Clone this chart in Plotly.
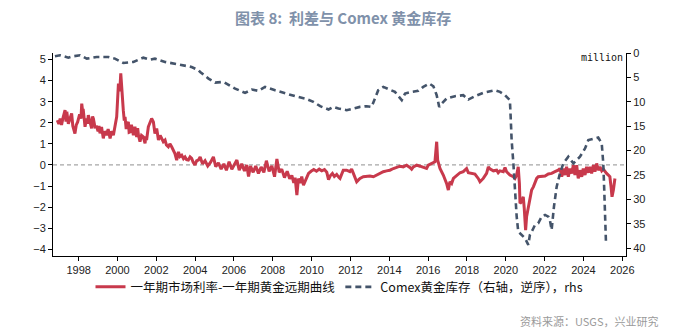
import plotly.graph_objects as go

# ---- data ----
spread_year = [
    1996.90, 1996.98, 1997.05, 1997.12, 1997.20, 1997.30, 1997.35, 1997.39, 1997.47, 1997.56,
    1997.64, 1997.70, 1997.76, 1997.81, 1997.88, 1997.95, 1998.05, 1998.12, 1998.16, 1998.20,
    1998.24, 1998.28, 1998.33, 1998.40, 1998.45, 1998.50, 1998.58, 1998.67, 1998.72, 1998.76,
    1998.84, 1998.93, 1999.00, 1999.05, 1999.10, 1999.18, 1999.27, 1999.35, 1999.44, 1999.52,
    1999.62, 1999.70, 1999.79, 1999.87, 1999.96, 2000.05, 2000.12, 2000.17, 2000.22, 2000.30,
    2000.35, 2000.39, 2000.45, 2000.48, 2000.56, 2000.60, 2000.65, 2000.72, 2000.82, 2000.90,
    2000.95, 2000.99, 2001.04, 2001.08, 2001.16, 2001.24, 2001.33, 2001.42, 2001.46, 2001.50,
    2001.59, 2001.68, 2001.76, 2001.85, 2001.90, 2001.93, 2002.02, 2002.08, 2002.11, 2002.20,
    2002.28, 2002.36, 2002.45, 2002.52, 2002.62, 2002.70, 2002.79, 2002.88, 2002.96, 2003.05,
    2003.10, 2003.14, 2003.22, 2003.31, 2003.40, 2003.48, 2003.56, 2003.65, 2003.74, 2003.82,
    2003.90, 2003.99, 2004.08, 2004.17,
    2004.26, 2004.38, 2004.51, 2004.65, 2004.79, 2004.94, 2005.06, 2005.20, 2005.34, 2005.48,
    2005.61, 2005.75, 2005.89, 2006.03, 2006.15, 2006.27, 2006.40, 2006.54, 2006.66, 2006.75,
    2006.85, 2006.99, 2007.12, 2007.26, 2007.40, 2007.54, 2007.67, 2007.81, 2007.95, 2008.09,
    2008.21, 2008.33, 2008.46, 2008.60, 2008.74, 2008.87, 2008.98, 2009.08, 2009.15, 2009.24,
    2009.32, 2009.42, 2009.49, 2009.58, 2009.70, 2009.84, 2009.97, 2010.11, 2010.25, 2010.39,
    2010.52, 2010.66, 2010.78, 2010.87, 2010.97, 2011.07, 2011.17, 2011.29, 2011.41,
    2011.46, 2011.63, 2011.80, 2011.97, 2012.06, 2012.15, 2012.23, 2012.32, 2012.40, 2012.49,
    2012.66, 2012.83, 2013.00, 2013.18, 2013.35, 2013.52, 2013.69, 2013.86, 2014.03, 2014.21,
    2014.38, 2014.55, 2014.72, 2014.89, 2015.06, 2015.15, 2015.24, 2015.41, 2015.58, 2015.75,
    2015.92, 2016.01, 2016.18, 2016.35, 2016.44, 2016.49, 2016.61, 2016.78, 2016.95, 2017.04,
    2017.12, 2017.21, 2017.30, 2017.47, 2017.64, 2017.81, 2017.98, 2018.07, 2018.24, 2018.41,
    2018.58, 2018.67, 2018.84, 2019.01, 2019.10,
    2019.18, 2019.36, 2019.53, 2019.61, 2019.70, 2019.87, 2019.96, 2020.04, 2020.21, 2020.39,
    2020.47, 2020.56, 2020.64, 2020.70, 2020.73, 2020.82, 2020.90, 2020.95, 2021.02, 2021.07,
    2021.16, 2021.24, 2021.33, 2021.42, 2021.50, 2021.59, 2021.67, 2021.85, 2022.02, 2022.19,
    2022.36, 2022.53, 2022.70, 2022.79, 2022.88, 2022.96, 2023.05, 2023.13, 2023.22, 2023.30,
    2023.39, 2023.48, 2023.56, 2023.65, 2023.73, 2023.82, 2023.91, 2023.99, 2024.08, 2024.16,
    2024.25, 2024.33, 2024.42, 2024.51, 2024.59, 2024.68, 2024.76, 2024.85, 2024.94, 2025.02,
    2025.11, 2025.19, 2025.28, 2025.36, 2025.42, 2025.47, 2025.54, 2025.59, 2025.62,
]
spread_value = [
    2.12, 1.95, 2.20, 1.90, 2.25, 2.60, 2.05, 2.52, 1.95, 2.28,
    2.44, 1.85, 1.65, 1.49, 1.90, 2.04, 2.40, 2.20, 2.91, 2.60,
    2.60, 2.00, 1.81, 2.20, 1.95, 2.36, 2.00, 1.73, 2.30, 2.20,
    1.80, 1.81, 1.60, 1.85, 1.50, 1.80, 1.26, 1.60, 1.41, 1.70,
    1.26, 1.60, 1.41, 1.81, 2.28, 3.86, 3.50, 4.34, 3.39, 2.60,
    2.10, 2.28, 1.70, 1.89, 2.04, 1.55, 1.57, 1.90, 1.41, 1.81,
    1.50, 1.33, 1.75, 1.41, 1.10, 1.40, 1.33, 1.02, 1.35, 1.18,
    1.81, 2.00, 2.20, 2.04, 1.65, 1.49, 1.73, 1.40, 1.18, 1.40,
    1.26, 1.10, 1.18, 0.95, 0.86, 1.00, 0.86, 0.70, 0.54, 0.23,
    0.45, 0.62, 0.40, 0.46, 0.30, 0.38, 0.25, 0.23, 0.38, 0.31,
    0.12, 0.00, 0.20, 0.23,
    0.38, 0.05, 0.20, -0.05, 0.12, 0.38, -0.08, 0.10, -0.20, 0.05,
    -0.25, 0.15, -0.20, 0.05, 0.23, -0.25, 0.05, -0.28, 0.00, -0.55,
    -0.05, -0.35, -0.05, -0.40, -0.10, -0.35, 0.20, -0.30, -0.05, -0.56,
    0.28, -0.35, -0.20, -0.60, -0.30, -0.65, -0.50, -0.85, -0.60, -1.43,
    -0.65, -0.85, -0.55, -0.96, -0.70, -0.40, -0.30, -0.22, -0.30, -0.20,
    -0.28, -0.22, -0.35, -0.70, -0.50, -0.40, -0.55, -0.45, -0.60,
    -0.64, -0.25, -0.25, -0.32, -0.20, -0.40, -0.56, -0.80, -0.72, -0.64,
    -0.56, -0.53, -0.53, -0.56, -0.48, -0.43, -0.32, -0.28, -0.25, -0.17,
    -0.12, -0.06, -0.09, -0.01, -0.12, -0.20, -0.09, -0.01, -0.06, -0.12,
    -0.17, -0.01, 0.07, 0.15, 1.10, 0.23, -0.17, -0.48, -0.88, -1.19,
    -0.80, -0.88, -0.64, -0.48, -0.37, -0.32, -0.17, -0.37, -0.40, -0.43,
    -0.64, -0.80, -0.64, -0.40, -0.09,
    -0.19, -0.28, -0.25, -0.37, -0.28, -0.32, -0.12, -0.32, -0.48, -0.56,
    -0.64, -0.48, -0.09, -0.88, -1.82, -1.74, -1.51, -2.06, -3.09, -2.46,
    -1.98, -1.51, -1.19, -1.04, -0.80, -0.64, -0.56, -0.56, -0.53, -0.43,
    -0.40, -0.32, -0.25, -0.17, -0.56, -0.17, -0.48, -0.09, -0.56, -0.17,
    -0.40, -0.01, -0.48, -0.01, -0.64, -0.25, -0.56, -0.17, -0.48, -0.09,
    -0.37, -0.09, -0.40, -0.01, -0.32, 0.07, -0.25, -0.09, -0.28, -0.20,
    -0.32, -0.40, -0.48, -0.56, -1.04, -1.51, -1.19, -0.80, -0.64,
]

stock_year = [
    1996.78, 1997.04, 1997.47, 1997.73, 1998.07, 1998.42, 1998.93, 1999.53, 1999.87, 2000.30,
    2000.82, 2001.33, 2001.68, 2001.93, 2002.45, 2002.88, 2003.39, 2003.82, 2004.17, 2004.26,
    2004.69, 2005.03, 2005.46, 2005.72, 2006.06, 2006.57, 2006.92, 2007.26, 2007.60, 2008.12,
    2008.63, 2009.15, 2009.66, 2010.09, 2010.44, 2010.87, 2011.12, 2011.38, 2011.80, 2012.15,
    2012.49, 2012.83, 2013.09, 2013.26, 2013.43, 2013.69, 2014.03, 2014.29, 2014.64, 2014.81,
    2015.15, 2015.49, 2015.75, 2016.06, 2016.27, 2016.44, 2016.57, 2016.70, 2016.95, 2017.38,
    2017.81, 2018.07, 2018.41, 2018.84, 2019.44, 2019.70, 2019.96, 2020.21, 2020.25, 2020.30,
    2020.39, 2020.47, 2020.56, 2020.64, 2020.82, 2020.99, 2021.16, 2021.24, 2021.38, 2021.50,
    2021.67, 2021.85, 2022.02, 2022.19, 2022.27, 2022.36, 2022.48, 2022.62, 2022.79, 2022.96,
    2023.22, 2023.48, 2023.82, 2024.08, 2024.25, 2024.51, 2024.76, 2024.94, 2025.02, 2025.07,
    2025.12, 2025.16,
]
stock_value = [
    0.67, 0.47, 0.95, 0.67, 0.47, 1.15, 0.81, 0.81, 1.15, 2.04,
    1.83, 0.95, 1.36, 1.15, 1.83, 2.17, 2.52, 2.86, 3.54, 3.88,
    5.24, 6.06, 5.92, 6.47, 7.29, 8.17, 7.49, 7.76, 6.95, 7.63,
    8.31, 8.85, 9.33, 10.01, 10.90, 11.58, 11.04, 11.38, 11.72, 11.38,
    11.04, 10.90, 11.04, 9.33, 7.63, 6.95, 7.49, 7.97, 9.67, 8.31,
    7.97, 7.76, 6.95, 6.26, 6.81, 8.65, 11.04, 10.35, 9.33, 8.85,
    8.65, 9.54, 8.85, 8.17, 7.63, 7.97, 8.65, 9.67, 13.08, 17.85,
    22.62, 28.08, 33.53, 36.59, 37.28, 37.96, 39.32, 37.28, 36.26, 35.24,
    34.89, 33.53, 33.19, 33.53, 34.21, 36.26, 31.48, 27.40, 24.67, 22.62,
    21.26, 22.62, 21.26, 19.56, 17.85, 17.51, 17.31, 18.53, 22.62, 28.08,
    33.53, 38.98,
]

x_ticks = list(range(1998, 2027, 2))
left_ticks = [-4, -3, -2, -1, 0, 1, 2, 3, 4, 5]
right_ticks = [0, 5, 10, 15, 20, 25, 30, 35, 40]

name_spread = "一年期市场利率-一年期黄金远期曲线"
name_stock = "Comex黄金库存（右轴，逆序），rhs"
title_text = "图表 8:  利差与 Comex 黄金库存"
source_text = "资料来源：USGS，兴业研究"

RED = "#C8394C"
NAVY = "#44546A"
TICKFONT = dict(family="Liberation Sans, Arial, sans-serif", size=11, color="#222222")

fig = go.Figure()
fig.add_trace(go.Scatter(
    x=spread_year, y=spread_value, name=name_spread, mode="lines",
    line=dict(color=RED, width=3), yaxis="y",
))
fig.add_trace(go.Scatter(
    x=stock_year, y=stock_value, name=name_stock, mode="lines",
    line=dict(color=NAVY, width=2.6, dash="6px,4px"), yaxis="y2",
))

fig.add_shape(type="line", xref="paper", x0=0, x1=1, yref="y", y0=0, y1=0,
              line=dict(color="#A6A6A6", width=1.2, dash="4px,3px"), layer="below")

fig.update_layout(
    width=700, height=335,
    margin=dict(l=53, r=74, t=53, b=79),
    paper_bgcolor="white", plot_bgcolor="white",
    showlegend=True,
    legend=dict(orientation="h", x=0.50, xanchor="center", y=-0.08, yanchor="top",
                font=dict(family="Noto Sans CJK SC", size=12.5, color="#111111"),
                itemwidth=30, tracegroupgap=0, bgcolor="rgba(0,0,0,0)"),
    xaxis=dict(range=[1996.68, 2026.19], tickmode="array", tickvals=x_ticks,
               ticktext=[str(t) for t in x_ticks],
               showgrid=False, zeroline=False, showline=True, linecolor="#000000",
               linewidth=1, ticks="outside", ticklen=4, tickcolor="#000000",
               tickfont=TICKFONT),
    yaxis=dict(range=[-4.32, 5.31], tickmode="array", tickvals=left_ticks,
               showgrid=False, zeroline=False, showline=True, linecolor="#000000",
               linewidth=1, ticks="outside", ticklen=4, tickcolor="#000000",
               tickfont=TICKFONT),
    yaxis2=dict(range=[41.6, 0], overlaying="y", side="right", tickmode="array",
                tickvals=right_ticks, showgrid=False, zeroline=False, showline=True,
                linecolor="#000000", linewidth=1, ticks="outside", ticklen=4,
                tickcolor="#000000", tickfont=TICKFONT),
    annotations=[
        dict(text="<b>" + title_text + "</b>", xref="paper", yref="paper",
             x=(343 - 53) / 573, y=1 + (53 - 18) / 203, xanchor="center", yanchor="middle",
             showarrow=False, font=dict(family="Noto Sans CJK SC", size=15, color="#8091AA")),
        dict(text="million", xref="paper", yref="paper", x=1 - 1 / 573, y=1 - 5 / 203,
             xanchor="right", yanchor="middle", showarrow=False,
             font=dict(family="DejaVu Sans Mono", size=10, color="#111111")),
        dict(text=source_text, xref="paper", yref="paper", x=(661 - 53) / 573,
             y=-(321 - 256) / 203, xanchor="right", yanchor="middle", showarrow=False,
             font=dict(family="Noto Sans CJK SC", size=11, color="#9A9A9A")),
    ],
)

fig.write_html("out.html")
